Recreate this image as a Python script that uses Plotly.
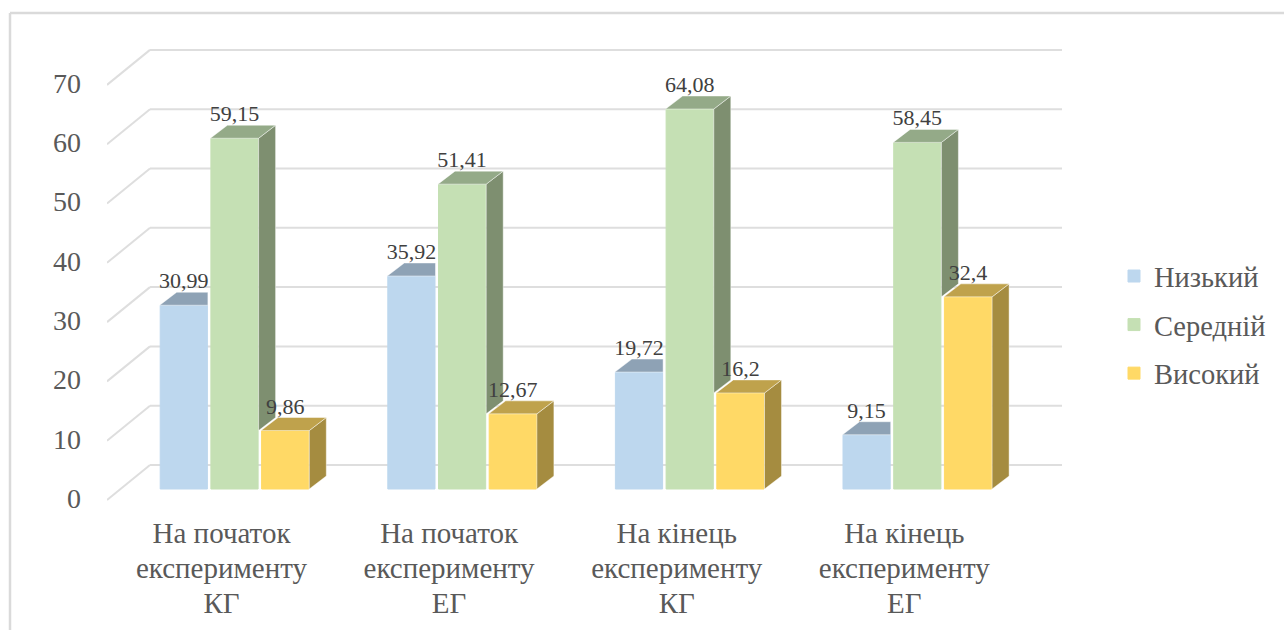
import plotly.graph_objects as go

# Survey results by stage and group, in percent
CATEGORIES = [
    ["На початок", "експерименту", "КГ"],
    ["На початок", "експерименту", "ЕГ"],
    ["На кінець", "експерименту", "КГ"],
    ["На кінець", "експерименту", "ЕГ"],
]
LOW = [30.99, 35.92, 19.72, 9.15]
MID = [59.15, 51.41, 64.08, 58.45]
HIGH = [9.86, 12.67, 16.2, 32.4]
VALUE_TICKS = [0, 10, 20, 30, 40, 50, 60, 70]

SERIES = [
    ("Низький", LOW, "#BDD7EE", "#8EA2B5", "#8EA2B5"),
    ("Середній", MID, "#C5E0B4", "#94AA88", "#7E8F70"),
    ("Високий", HIGH, "#FFD966", "#BFA24C", "#A58C40"),
]

# Page layout of the plotting area, in pixels
WIDTH, HEIGHT = 1284, 630
LEFT, RIGHT, TOP, BOTTOM = 107, 1062, 40, 505
PX_PER_GROUP = 227.6
PX_PER_UNIT = 5.93
FIRST_GROUP_PX = 234.5
BASE_PX = 489


def px_x(n):
    return n / PX_PER_GROUP


def px_y(n):
    return n / PX_PER_UNIT


def paper_x(p):
    return (p - LEFT) / (RIGHT - LEFT)


def paper_y(p):
    return (BOTTOM - p) / (BOTTOM - TOP)


X_RANGE = [(LEFT - FIRST_GROUP_PX) / PX_PER_GROUP, (RIGHT - FIRST_GROUP_PX) / PX_PER_GROUP]
Y_RANGE = [(BASE_PX - BOTTOM) / PX_PER_UNIT, (BASE_PX - TOP) / PX_PER_UNIT]

SLOT_W = px_x(50.7)         # horizontal room per column
GROUP_W = 3 * SLOT_W
COLUMN_GAP = 0.069          # fraction of a slot left white between columns
EDGE_PAD = SLOT_W * COLUMN_GAP / 2 - px_x(0.5)
BAR_DX, BAR_DY = px_x(17), px_y(13)      # receding depth of a column
WALL_FRONT = px_y(-11)      # floor edge nearest the viewer, relative to the columns
WALL_BACK = px_y(24)        # rear wall, relative to the columns
WALL_BACK_X = px_x(43)
LABEL_LIFT = px_y(22.5)

fig = go.Figure()

# Front faces of the columns
for name, values, front, _, _ in SERIES:
    fig.add_trace(go.Bar(
        x=list(range(len(values))), y=values, name=name, legendgroup=name,
        marker=dict(color=front, line=dict(color=front, width=1)),
        hoverinfo="name+y",
    ))


def add_face(rings, color):
    xs, ys = [], []
    for ring in rings:
        xs += [p[0] for p in ring] + [ring[0][0], None]
        ys += [p[1] for p in ring] + [ring[0][1], None]
    fig.add_trace(go.Scatter(
        x=xs, y=ys, mode="lines", fill="toself", fillcolor=color,
        line=dict(color="rgba(255,255,255,0.45)", width=1),
        showlegend=False, hoverinfo="skip",
    ))


# Top and side faces; each is trimmed where the neighbouring column hides it
for s, (name, values, _, top_c, side_c) in enumerate(SERIES):
    tops, sides = [], []
    for g, v in enumerate(values):
        x0 = g - GROUP_W / 2 + s * SLOT_W + EDGE_PAD
        x1 = g - GROUP_W / 2 + (s + 1) * SLOT_W - EDGE_PAD
        right_limit = x1 if s == 0 else x1 + BAR_DX
        tops.append([(x0, v), (x1, v), (right_limit, v + BAR_DY), (x0 + BAR_DX, v + BAR_DY)])
        if s == 1:
            floor = HIGH[g]
            sides.append([(x1, v), (x1 + BAR_DX, v + BAR_DY),
                          (x1 + BAR_DX, floor + BAR_DY), (x1, floor)])
        elif s == 2:
            sides.append([(x1, v), (x1 + BAR_DX, v + BAR_DY),
                          (x1 + BAR_DX, BAR_DY), (x1, 0)])
    if sides:
        add_face(sides, side_c)
    add_face(tops, top_c)

# Value labels above each column
for s, (name, values, _, _, _) in enumerate(SERIES):
    fig.add_trace(go.Scatter(
        x=[g - GROUP_W / 2 + (s + 0.5) * SLOT_W for g in range(len(values))],
        y=[v + LABEL_LIFT for v in values],
        mode="text",
        text=[f"{v:g}".replace(".", ",") for v in values],
        textposition="middle center",
        textfont=dict(family="Liberation Serif", size=22, color="#404040"),
        showlegend=False, hoverinfo="skip", cliponaxis=False,
    ))

# Floor and rear wall gridlines, kept beneath the columns
shapes = []
grid_line = dict(color="#DEDEDE", width=2)
for v in VALUE_TICKS:
    yb = v + WALL_BACK
    yf = v + WALL_FRONT
    xb = X_RANGE[0] + WALL_BACK_X
    shapes.append(dict(type="line", xref="x", yref="y", x0=X_RANGE[0], y0=yf, x1=xb, y1=yb,
                       line=grid_line, layer="below"))
    shapes.append(dict(type="line", xref="x", yref="y", x0=xb, y0=yb, x1=X_RANGE[1], y1=yb,
                       line=grid_line, layer="below"))

# Chart frame, running off the page on the right and at the bottom
frame = dict(color="#DADADA", width=2.5)
shapes.append(dict(type="line", xref="paper", yref="paper",
                   x0=paper_x(10), y0=paper_y(13), x1=paper_x(WIDTH + 5), y1=paper_y(13),
                   line=frame, layer="below"))
shapes.append(dict(type="line", xref="paper", yref="paper",
                   x0=paper_x(10), y0=paper_y(13), x1=paper_x(10), y1=paper_y(HEIGHT + 5),
                   line=frame, layer="below"))

AXIS_TEXT = "#595959"
SPAN = '<span style="font-size:29px">{}</span>'

fig.update_layout(
    width=WIDTH, height=HEIGHT, autosize=False,
    margin=dict(l=LEFT, r=WIDTH - RIGHT, t=TOP, b=HEIGHT - BOTTOM, pad=0),
    paper_bgcolor="#FFFFFF", plot_bgcolor="rgba(0,0,0,0)",
    barmode="group", bargap=1 - GROUP_W, bargroupgap=COLUMN_GAP,
    shapes=shapes,
    font=dict(family="Liberation Serif", color=AXIS_TEXT),
    xaxis=dict(
        range=X_RANGE, showgrid=False, zeroline=False, showline=False, ticks="",
        tickmode="array",
        tickvals=[g - px_x(13) for g in range(len(CATEGORIES))],
        ticktext=["<br>".join(SPAN.format(line) for line in lines) for lines in CATEGORIES],
        tickfont=dict(family="Liberation Serif", size=27, color=AXIS_TEXT),
        tickangle=0, ticklabelstandoff=10,
    ),
    yaxis=dict(
        range=Y_RANGE, showgrid=False, zeroline=False, showline=False, ticks="",
        tickmode="array",
        tickvals=[v - px_y(9) for v in VALUE_TICKS],
        ticktext=[str(v) for v in VALUE_TICKS],
        tickfont=dict(family="Liberation Serif", size=28, color=AXIS_TEXT),
        ticklabelstandoff=25,
    ),
    legend=dict(
        x=paper_x(1114), y=paper_y(251), xanchor="left", yanchor="top",
        font=dict(family="Liberation Serif", size=28.5, color=AXIS_TEXT),
        tracegroupgap=8.5, itemclick=False, itemdoubleclick=False,
        bgcolor="rgba(0,0,0,0)",
    ),
)

fig.write_html("out.html", config={"displayModeBar": False})
